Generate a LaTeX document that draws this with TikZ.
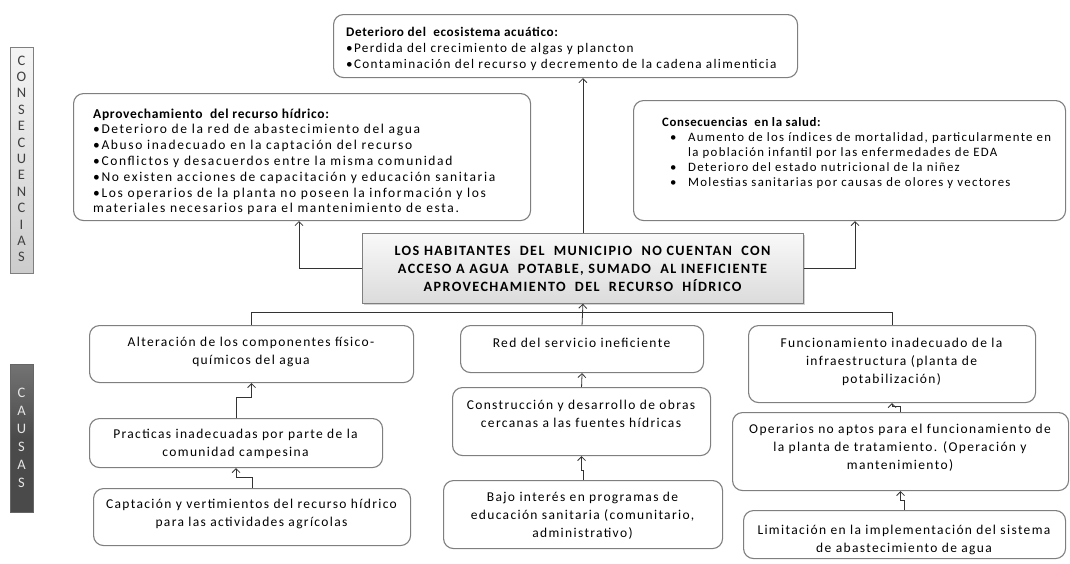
\documentclass[tikz,border=0pt]{standalone}
\usepackage{fontspec}
\setmainfont{Carlito}[LetterSpace=10]
\usetikzlibrary{arrows.meta,shadows,calc}
\definecolor{bordergray}{HTML}{7F7F7F}
\definecolor{darkbar}{HTML}{4A4A4A}
\newcommand{\ttl}[1]{{\bfseries\addfontfeature{LetterSpace=5}#1}}
\tikzset{
  box/.style={draw=bordergray, line width=1.1pt, rounded corners=10pt, fill=white, inner sep=0pt, anchor=north west},
  txt/.style={inner sep=0pt, font=\fontsize{13.5}{15.8}\selectfont, align=left, anchor=north west},
  ctxt/.style={inner sep=0pt, font=\fontsize{13.5}{18}\selectfont, align=center},
  arr/.style={draw=black!80, line width=0.8pt, -{Straight Barb[length=4pt,width=8pt]}},
  conn/.style={draw=black!80, line width=0.8pt},
  vletter/.style={inner sep=0pt, font=\fontsize{14.5}{14.5}\selectfont},
}
\begin{document}
\begin{tikzpicture}[x=1pt,y=-1pt]
\useasboundingbox (0,0) rectangle (1070,563);
% side bars
\node[draw=bordergray, line width=0.8pt, top color=gray!8, bottom color=gray!40, minimum width=23pt, minimum height=226pt, inner sep=0pt, anchor=north west, drop shadow={shadow xshift=1pt, shadow yshift=-1pt, opacity=0.3}] (consbar) at (10,47) {};
\foreach \l [count=\i from 0] in {C,O,N,S,E,C,U,E,N,C,I,A,S}
  \node[vletter, text=black!75] (cl\i) at (21.5,{60.5+\i*16.4}) {\l};
\node[draw=black!60, line width=0.8pt, top color=gray!90!black, bottom color=darkbar, middle color=darkbar, minimum width=23pt, minimum height=148pt, inner sep=0pt, anchor=north west, drop shadow={shadow xshift=1pt, shadow yshift=-1pt, opacity=0.3}] (causbar) at (10,364) {};
\foreach \l [count=\i from 0] in {C,A,U,S,A,S}
  \node[vletter, text=white!90!black] (al\i) at (21.5,{393+\i*18}) {\l};

% consequence boxes
\node[box, minimum width=464pt, minimum height=63pt] (eco) at (333,14) {};
\node[txt, font=\fontsize{13.2}{16}\selectfont] (ecotxt) at (346,27) {\ttl{Deterioro del\ \ ecosistema acuático:}\\
•Perdida del crecimiento de algas y plancton\\
•Contaminación del recurso y decremento de la cadena alimenticia};

\node[box, minimum width=457pt, minimum height=127pt] (aprov) at (73,93) {};
\node[txt, font=\fontsize{13.5}{15.8}\selectfont\addfontfeature{LetterSpace=12}] (aprovtxt) at (93,108.5) {\ttl{Aprovechamiento\ \ del recurso hídrico:}\\
•Deterioro de la red de abastecimiento del agua\\
•Abuso inadecuado en la captación del recurso\\
•Conflictos y desacuerdos entre la misma comunidad\\
•No existen acciones de capacitación y educación sanitaria\\
•Los operarios de la planta no poseen la información y los\\
materiales necesarios para el mantenimiento de esta.};

\node[box, minimum width=432pt, minimum height=120pt] (salud) at (633,100) {};
\node[txt, font=\fontsize{12.8}{15}\selectfont] (saludtxt) at (662,117) {\ttl{Consecuencias\ \ en la salud:}\\
\hspace*{8pt}\makebox[18pt][l]{•}Aumento de los índices de mortalidad, particularmente en\\
\hspace*{26pt}la población infantil por las enfermedades de EDA\\
\hspace*{8pt}\makebox[18pt][l]{•}Deterioro del estado nutricional de la niñez\\
\hspace*{8pt}\makebox[18pt][l]{•}Molestias sanitarias por causas de olores y vectores};

% central problem
\node[draw=bordergray, line width=0.8pt, top color=gray!5, bottom color=gray!28, minimum width=441pt, minimum height=70pt, inner sep=0pt, anchor=north west, drop shadow={shadow xshift=1.5pt, shadow yshift=-1.5pt, opacity=0.35}] (center) at (362,233) {};
\node[ctxt, font=\bfseries\fontsize{14.2}{18}\selectfont] (centertxt) at (582.5,269) {LOS HABITANTES\ \ DEL\ \ MUNICIPIO\ \ NO CUENTAN\ \ CON\\
ACCESO A AGUA\ \ POTABLE, SUMADO\ \ AL INEFICIENTE\\
APROVECHAMIENTO\ \ DEL\ \ RECURSO\ \ HÍDRICO};

% cause boxes
\node[box, minimum width=324pt, minimum height=57pt] (alt) at (89,325) {};
\node[ctxt] (alttxt) at (251,352) {Alteración de los componentes físico-\\químicos del agua};
\node[box, minimum width=293pt, minimum height=49pt] (prac) at (89,418) {};
\node[ctxt] (practxt) at (235.5,444) {Practicas inadecuadas por parte de la\\comunidad campesina};
\node[box, minimum width=317pt, minimum height=57pt] (capt) at (93,488) {};
\node[ctxt] (capttxt) at (251.5,513.5) {Captación y vertimientos del recurso hídrico\\para las actividades agrícolas};

\node[box, minimum width=243pt, minimum height=47pt] (red) at (460,325) {};
\node[ctxt] (redtxt) at (581.5,343) {Red del servicio ineficiente};
\node[box, minimum width=258pt, minimum height=68pt] (const) at (452,387) {};
\node[ctxt] (consttxt) at (581,413.5) {Construcción y desarrollo de obras\\cercanas a las fuentes hídricas};
\node[box, minimum width=279pt, minimum height=68pt] (bajo) at (443,480) {};
\node[ctxt] (bajotxt) at (582.5,516) {Bajo interés en programas de\\educación sanitaria (comunitario,\\administrativo)};

\node[box, minimum width=287pt, minimum height=77pt] (func) at (748,325) {};
\node[ctxt] (functxt) at (891.5,362) {Funcionamiento inadecuado de la\\infraestructura (planta de\\potabilización)};
\node[box, minimum width=336pt, minimum height=78pt] (oper) at (732,412) {};
\node[ctxt] (opertxt) at (900,447.5) {Operarios no aptos para el funcionamiento de\\la planta de tratamiento. (Operación y\\mantenimiento)};
\node[box, minimum width=322pt, minimum height=48pt] (lim) at (743,510) {};
\node[ctxt] (limtxt) at (904,539.5) {Limitación en la implementación del sistema\\de abastecimiento de agua};

% connectors: consequences
\draw[arr] (center.north) -- (center.north |- eco.south);
\draw[arr] (center.west) -| (299,0 |- aprov.south);
\draw[arr] (center.east) -| (855,0 |- salud.south);

% connectors: causes
\draw[conn] (alt.north) |- (func.north |- 0,312) -- (func.north);
\draw[arr] (red.north) -- (center.south);
\draw[arr] (prac.north) |- (alt.south |- 0,397) -- (alt.south);
\draw[arr] (capt.north) |- (prac.south |- 0,477) -- (prac.south);
\draw[arr] (const.north) -- (red.south);
\draw[arr] (bajo.north) |- (const.south |- 0,470) -- (const.south);
\draw[arr] (oper.north) |- (func.south |- 0,406) -- (func.south);
\draw[arr] (lim.north) |- (oper.south |- 0,500) -- (oper.south);
\end{tikzpicture}
\end{document}
